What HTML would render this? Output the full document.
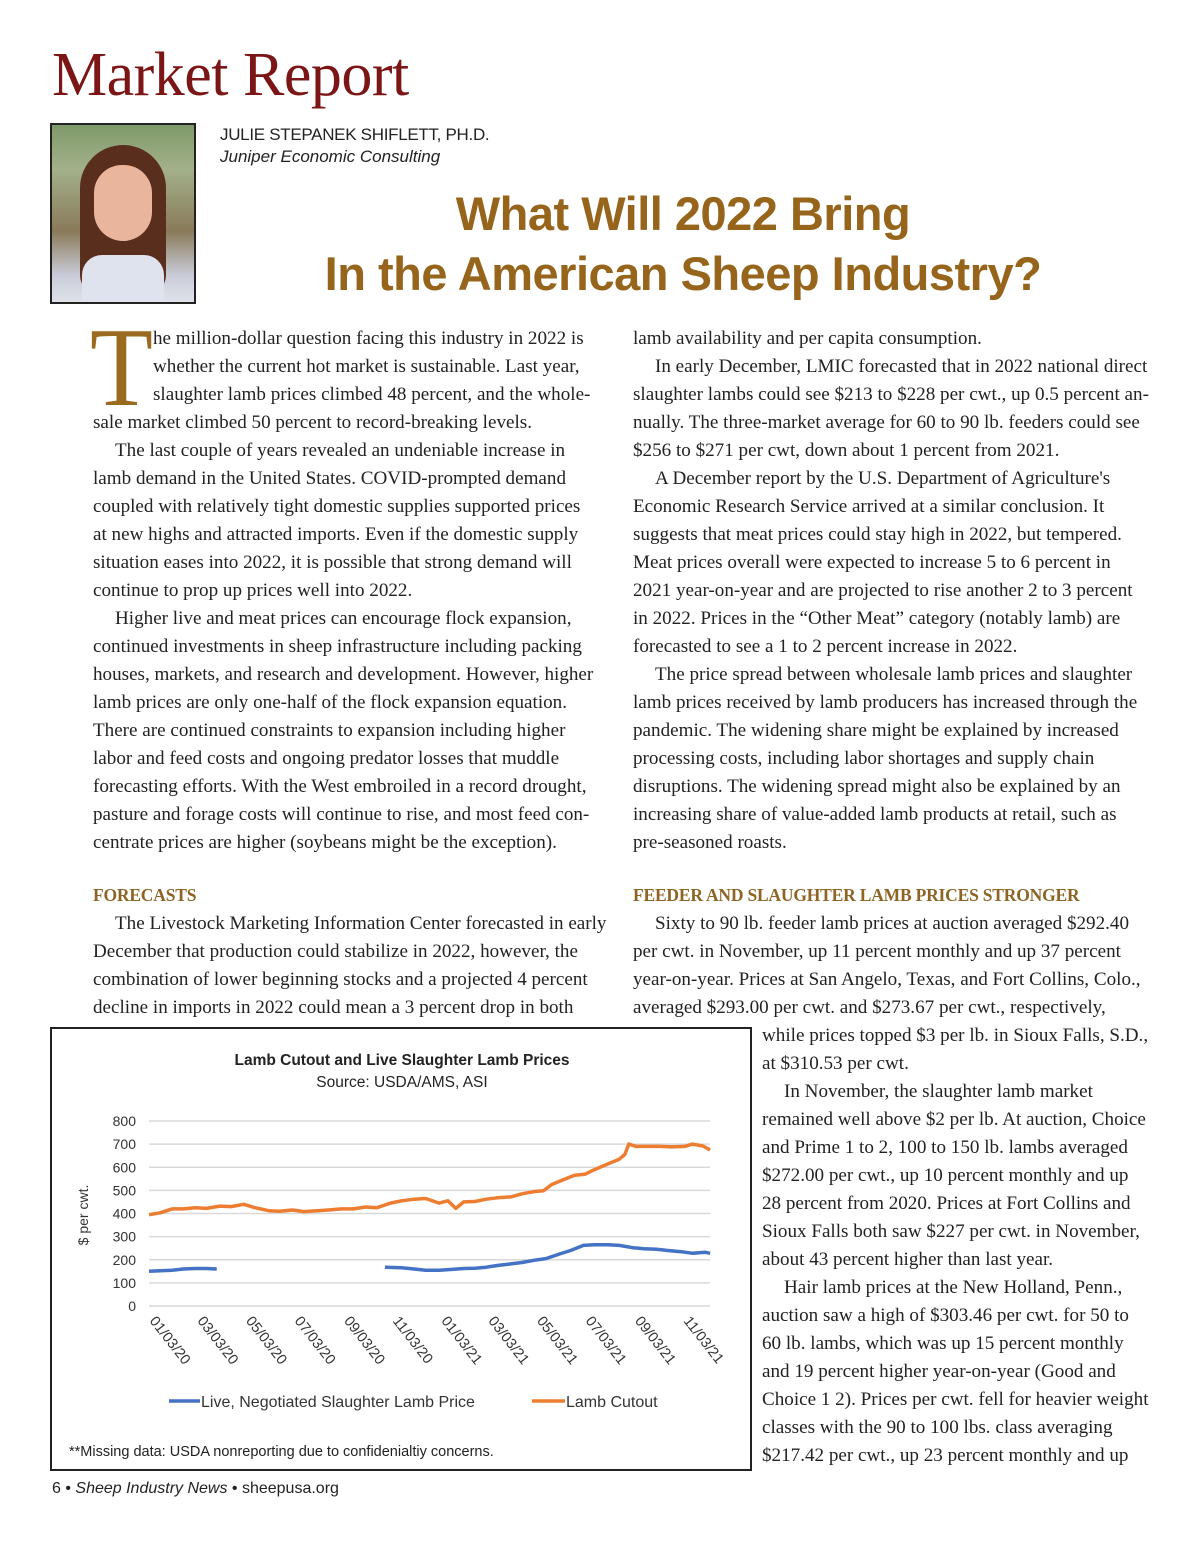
<!DOCTYPE html>
<html><head><meta charset="utf-8"><style>
body{margin:0;background:#fff;}
#page{position:relative;width:1200px;height:1558px;overflow:hidden;background:#fff;font-family:"Liberation Serif",serif;color:#222;}
.l{position:absolute;font-size:19.1px;line-height:28px;white-space:nowrap;height:28px;}
.c1{left:93px}.c2{left:633px}.c3{left:762px}
.ind{padding-left:22px}
.h{position:absolute;font-weight:bold;font-size:17.5px;color:#8d6424;white-space:nowrap;letter-spacing:-0.2px}
.ttl{position:absolute;width:900px;left:233px;text-align:center;font-family:"Liberation Sans",sans-serif;font-weight:bold;font-size:47px;color:#96651b;white-space:nowrap;letter-spacing:-0.5px}
</style></head><body>
<div id="page">
<div style="position:absolute;left:52px;top:40px;font-size:62px;color:#7c1515;letter-spacing:-0.5px;line-height:70px;">Market Report</div>
<div style="position:absolute;left:50px;top:123px;width:142px;height:177px;border:2px solid #222;background:linear-gradient(180deg,#7f9a6a 0%,#a3b08a 25%,#8a7a5a 60%,#c9ccd8 85%,#e0e2ea 100%);overflow:hidden;">
 <div style="position:absolute;left:28px;top:20px;width:86px;height:150px;border-radius:43px 43px 20px 20px;background:#5a2e1c;"></div>
 <div style="position:absolute;left:42px;top:40px;width:58px;height:76px;border-radius:29px 29px 30px 30px;background:#e9b59c;"></div>
 <div style="position:absolute;left:30px;top:130px;width:82px;height:50px;border-radius:20px 20px 0 0;background:#dfe3ee;"></div>
</div>
<div style="position:absolute;left:220px;top:125px;font-family:'Liberation Sans',sans-serif;font-size:17px;color:#222;letter-spacing:-0.3px;">JULIE STEPANEK SHIFLETT, PH.D.</div>
<div style="position:absolute;left:220px;top:147px;font-family:'Liberation Sans',sans-serif;font-size:17px;font-style:italic;color:#222;">Juniper Economic Consulting</div>
<div class="ttl" style="top:186px;">What Will 2022 Bring</div>
<div class="ttl" style="top:246px;">In the American Sheep Industry?</div>

<div style="position:absolute;left:90px;top:312px;font-size:112px;line-height:112px;color:#9a6a1e;transform:scaleX(0.92);transform-origin:left top;">T</div>
<div>
<div class="l" style="left:153px;top:325px">he million-dollar question facing this industry in 2022 is</div>
<div class="l" style="left:153px;top:353px">whether the current hot market is sustainable. Last year,</div>
<div class="l" style="left:153px;top:381px">slaughter lamb prices climbed 48 percent, and the whole-</div>
<div class="l c1" style="top:409px">sale market climbed 50 percent to record-breaking levels.</div>
<div class="l c1 ind" style="top:437px">The last couple of years revealed an undeniable increase in</div>
<div class="l c1" style="top:465px">lamb demand in the United States. COVID-prompted demand</div>
<div class="l c1" style="top:493px">coupled with relatively tight domestic supplies supported prices</div>
<div class="l c1" style="top:521px">at new highs and attracted imports. Even if the domestic supply</div>
<div class="l c1" style="top:549px">situation eases into 2022, it is possible that strong demand will</div>
<div class="l c1" style="top:577px">continue to prop up prices well into 2022.</div>
<div class="l c1 ind" style="top:605px">Higher live and meat prices can encourage flock expansion,</div>
<div class="l c1" style="top:633px">continued investments in sheep infrastructure including packing</div>
<div class="l c1" style="top:661px">houses, markets, and research and development. However, higher</div>
<div class="l c1" style="top:689px">lamb prices are only one-half of the flock expansion equation.</div>
<div class="l c1" style="top:717px">There are continued constraints to expansion including higher</div>
<div class="l c1" style="top:745px">labor and feed costs and ongoing predator losses that muddle</div>
<div class="l c1" style="top:773px">forecasting efforts. With the West embroiled in a record drought,</div>
<div class="l c1" style="top:801px">pasture and forage costs will continue to rise, and most feed con-</div>
<div class="l c1" style="top:829px">centrate prices are higher (soybeans might be the exception).</div>
<div class="h" style="left:93px;top:885px">FORECASTS</div>
<div class="l c1 ind" style="top:910px">The Livestock Marketing Information Center forecasted in early</div>
<div class="l c1" style="top:938px">December that production could stabilize in 2022, however, the</div>
<div class="l c1" style="top:966px">combination of lower beginning stocks and a projected 4 percent</div>
<div class="l c1" style="top:994px">decline in imports in 2022 could mean a 3 percent drop in both</div>
</div>

<div>
<div class="l c2" style="top:325px">lamb availability and per capita consumption.</div>
<div class="l c2 ind" style="top:353px">In early December, LMIC forecasted that in 2022 national direct</div>
<div class="l c2" style="top:381px">slaughter lambs could see $213 to $228 per cwt., up 0.5 percent an-</div>
<div class="l c2" style="top:409px">nually. The three-market average for 60 to 90 lb. feeders could see</div>
<div class="l c2" style="top:437px">$256 to $271 per cwt, down about 1 percent from 2021.</div>
<div class="l c2 ind" style="top:465px">A December report by the U.S. Department of Agriculture's</div>
<div class="l c2" style="top:493px">Economic Research Service arrived at a similar conclusion. It</div>
<div class="l c2" style="top:521px">suggests that meat prices could stay high in 2022, but tempered.</div>
<div class="l c2" style="top:549px">Meat prices overall were expected to increase 5 to 6 percent in</div>
<div class="l c2" style="top:577px">2021 year-on-year and are projected to rise another 2 to 3 percent</div>
<div class="l c2" style="top:605px">in 2022. Prices in the “Other Meat” category (notably lamb) are</div>
<div class="l c2" style="top:633px">forecasted to see a 1 to 2 percent increase in 2022.</div>
<div class="l c2 ind" style="top:661px">The price spread between wholesale lamb prices and slaughter</div>
<div class="l c2" style="top:689px">lamb prices received by lamb producers has increased through the</div>
<div class="l c2" style="top:717px">pandemic. The widening share might be explained by increased</div>
<div class="l c2" style="top:745px">processing costs, including labor shortages and supply chain</div>
<div class="l c2" style="top:773px">disruptions. The widening spread might also be explained by an</div>
<div class="l c2" style="top:801px">increasing share of value-added lamb products at retail, such as</div>
<div class="l c2" style="top:829px">pre-seasoned roasts.</div>
<div class="h" style="left:633px;top:885px">FEEDER AND SLAUGHTER LAMB PRICES STRONGER</div>
<div class="l c2 ind" style="top:910px">Sixty to 90 lb. feeder lamb prices at auction averaged $292.40</div>
<div class="l c2" style="top:938px">per cwt. in November, up 11 percent monthly and up 37 percent</div>
<div class="l c2" style="top:966px">year-on-year. Prices at San Angelo, Texas, and Fort Collins, Colo.,</div>
<div class="l c2" style="top:994px">averaged $293.00 per cwt. and $273.67 per cwt., respectively,</div>
<div class="l c3" style="top:1022px">while prices topped $3 per lb. in Sioux Falls, S.D.,</div>
<div class="l c3" style="top:1050px">at $310.53 per cwt.</div>
<div class="l c3 ind" style="top:1078px">In November, the slaughter lamb market</div>
<div class="l c3" style="top:1106px">remained well above $2 per lb. At auction, Choice</div>
<div class="l c3" style="top:1134px">and Prime 1 to 2, 100 to 150 lb. lambs averaged</div>
<div class="l c3" style="top:1162px">$272.00 per cwt., up 10 percent monthly and up</div>
<div class="l c3" style="top:1190px">28 percent from 2020. Prices at Fort Collins and</div>
<div class="l c3" style="top:1218px">Sioux Falls both saw $227 per cwt. in November,</div>
<div class="l c3" style="top:1246px">about 43 percent higher than last year.</div>
<div class="l c3 ind" style="top:1274px">Hair lamb prices at the New Holland, Penn.,</div>
<div class="l c3" style="top:1302px">auction saw a high of $303.46 per cwt. for 50 to</div>
<div class="l c3" style="top:1330px">60 lb. lambs, which was up 15 percent monthly</div>
<div class="l c3" style="top:1358px">and 19 percent higher year-on-year (Good and</div>
<div class="l c3" style="top:1386px">Choice 1 2). Prices per cwt. fell for heavier weight</div>
<div class="l c3" style="top:1414px">classes with the 90 to 100 lbs. class averaging</div>
<div class="l c3" style="top:1442px">$217.42 per cwt., up 23 percent monthly and up</div>
</div>

<div style="position:absolute;left:50px;top:1027px;width:698px;height:440px;border:2px solid #222;background:#fff;">
<svg id="chart" width="698" height="440" style="position:absolute;left:0;top:0;font-family:'Liberation Sans',sans-serif;"></svg>
</div>
<div style="position:absolute;left:52px;top:1480px;font-family:'Liberation Sans',sans-serif;font-size:16px;color:#222;">6 • <i>Sheep Industry News</i> • sheepusa.org</div>
</div>
<script>
const yTicks=[0,100,200,300,400,500,600,700,800];
const xTickLabels=["01/03/20","03/03/20","05/03/20","07/03/20","09/03/20","11/03/20","01/03/21","03/03/21","05/03/21","07/03/21","09/03/21","11/03/21"];
const xTickDates=["2020-01-03","2020-03-03","2020-05-03","2020-07-03","2020-09-03","2020-11-03","2021-01-03","2021-03-03","2021-05-03","2021-07-03","2021-09-03","2021-11-03"];
const cutoutDates=["2020-01-03","2020-01-17","2020-02-01","2020-02-15","2020-03-01","2020-03-15","2020-04-01","2020-04-15","2020-05-01","2020-05-15","2020-06-01","2020-06-15","2020-07-01","2020-07-15","2020-08-01","2020-08-15","2020-09-01","2020-09-15","2020-10-01","2020-10-15","2020-11-01","2020-11-15","2020-12-01","2020-12-15","2021-01-01","2021-01-12","2021-01-22","2021-02-01","2021-02-15","2021-03-01","2021-03-15","2021-04-01","2021-04-15","2021-05-01","2021-05-12","2021-05-22","2021-06-05","2021-06-20","2021-07-03","2021-07-15","2021-08-01","2021-08-15","2021-08-22","2021-08-27","2021-09-05","2021-09-20","2021-10-05","2021-10-20","2021-11-05","2021-11-15","2021-11-28","2021-12-07"];
const cutoutValues=[395,403,420,420,425,422,432,430,440,425,412,410,415,408,412,415,420,420,428,425,445,455,462,465,445,455,422,450,452,462,468,472,485,495,498,525,545,565,570,590,615,635,655,700,690,690,690,688,690,700,692,675];
const liveDates=["2020-01-03","2020-01-17","2020-02-01","2020-02-15","2020-03-01","2020-03-15","2020-03-28","2020-06-01","2020-10-25","2020-11-15","2020-12-01","2020-12-15","2021-01-01","2021-01-15","2021-02-01","2021-02-15","2021-03-01","2021-03-15","2021-04-01","2021-04-15","2021-05-01","2021-05-15","2021-06-01","2021-06-15","2021-07-01","2021-07-15","2021-08-01","2021-08-15","2021-09-01","2021-09-15","2021-10-01","2021-10-15","2021-11-01","2021-11-15","2021-12-01","2021-12-07"];
const liveValues=[150,152,155,160,162,162,160,null,168,165,160,155,155,158,162,163,168,175,182,188,198,205,225,240,262,265,265,262,252,248,245,240,235,228,232,228];

const NS="http://www.w3.org/2000/svg";
const svg=document.getElementById('chart');
const X0=97,Y0=277,YTOP=92;
const t0=Date.parse("2020-01-03"),pxPerDay=0.797;
function xs(d){return X0+(Date.parse(d)-t0)/86400000*pxPerDay;}
function ys(v){return Y0-(v/800)*(Y0-YTOP);}
function mk(tag,attrs,text){const e=document.createElementNS(NS,tag);for(const k in attrs)e.setAttribute(k,attrs[k]);if(text!==undefined)e.textContent=text;svg.appendChild(e);return e;}

let e;
e=mk('text',{x:350,y:36,'text-anchor':'middle','font-size':15.5,'font-weight':'bold',fill:'#222'},'Lamb Cutout and Live Slaughter Lamb Prices');


e=mk('text',{x:350,y:58,'text-anchor':'middle','font-size':15.5,fill:'#222'},'Source: USDA/AMS, ASI');


yTicks.forEach(v=>{
  e=mk('line',{x1:X0,x2:658,y1:ys(v),y2:ys(v),stroke:'#d9d9d9','stroke-width':1.5});
  
  
  e=mk('text',{x:84,y:ys(v)+5,'text-anchor':'end','font-size':14,fill:'#333'},String(v));
  
  
});
e=mk('text',{x:0,y:0,transform:'translate(36,186) rotate(-90)','text-anchor':'middle','font-size':14,fill:'#333'},'$ per cwt.');


xTickLabels.forEach((lab,i)=>{
  const x=xs(xTickDates[i]);
  e=mk('text',{x:0,y:0,transform:`translate(${x},${Y0+15}) rotate(52)`,'font-size':14.5,fill:'#333'},lab);
  
  
});
function series(dates,vals,color,name){
  let d='',pen=false;
  vals.forEach((v,i)=>{
    if(v===null){pen=false;return;}
    d+=(pen?'L':'M')+xs(dates[i]).toFixed(1)+','+ys(v).toFixed(1);pen=true;
  });
  e=mk('path',{d:d,fill:'none',stroke:color,'stroke-width':3.5,'stroke-linejoin':'round'});
  
  
}
series(cutoutDates,cutoutValues,'#ED7D31','lamb-cutout-line');
series(liveDates,liveValues,'#4472C4','live-slaughter-line');
e=mk('line',{x1:117,x2:148,y1:372,y2:372,stroke:'#4472C4','stroke-width':3.5});


e=mk('text',{x:149,y:378,'font-size':16,fill:'#333'},'Live, Negotiated Slaughter Lamb Price');


e=mk('line',{x1:480,x2:513,y1:372,y2:372,stroke:'#ED7D31','stroke-width':3.5});


e=mk('text',{x:514,y:378,'font-size':16,fill:'#333'},'Lamb Cutout');


e=mk('text',{x:17,y:427,'font-size':14.5,fill:'#222'},'**Missing data: USDA nonreporting due to confidenialtiy concerns.');


</script>
</body></html>
